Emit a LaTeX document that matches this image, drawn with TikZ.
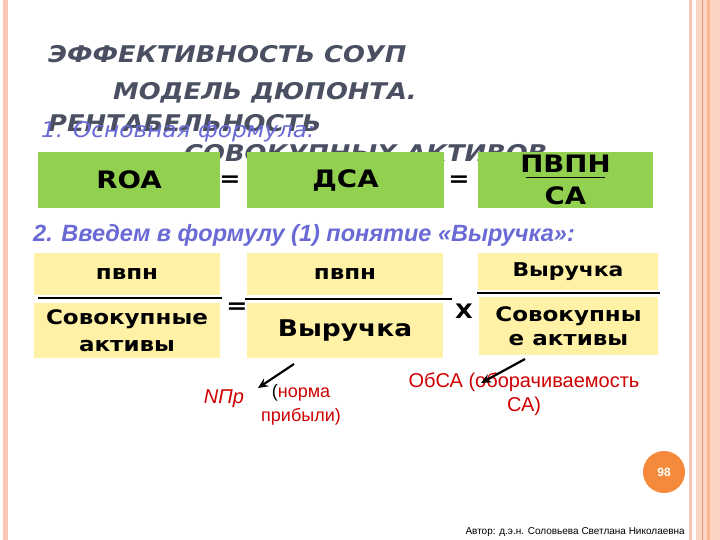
\documentclass[tikz,border=0pt]{standalone}
\usepackage{fontspec}
\setmainfont{DejaVu Sans}
\newfontfamily\vbold[FakeStretch=1.15]{DejaVu Sans Bold}
\newfontfamily\vboldit[FakeStretch=1.12]{DejaVu Sans Bold Oblique}
\newfontfamily\vital[FakeStretch=1.08]{DejaVu Sans Oblique}
\newfontfamily\arialf{Liberation Sans}
\usetikzlibrary{arrows.meta}
\definecolor{boxgreen}{HTML}{92D050}
\definecolor{boxyellow}{HTML}{FFF2A6}
\definecolor{titlegray}{HTML}{4A5062}
\definecolor{formblue}{HTML}{6A6AD6}
\definecolor{notered}{HTML}{D00000}
\definecolor{badge}{HTML}{F58A3A}
\definecolor{framepink}{HTML}{FBC6B3}
\definecolor{bandpink}{HTML}{FCD4C3}
\definecolor{bandline}{HTML}{EA9670}
\definecolor{bandorange}{HTML}{FAB592}
\begin{document}
\begin{tikzpicture}[x=1pt,y=-1pt,
	greenbox/.style={fill=boxgreen,minimum height=56pt,inner sep=0pt,align=center,font=\vbold\fontsize{24}{32}\selectfont},
	yellowbox/.style={fill=boxyellow,inner sep=0pt,align=center,font=\vbold\fontsize{20}{27}\selectfont},
	titleline/.style={anchor=base west,inner sep=0pt,text=titlegray,font=\vboldit\fontsize{23}{28}\selectfont},
	sign/.style={inner sep=0pt,font=\vbold\fontsize{22}{26}\selectfont},
	note/.style={inner sep=0pt,align=center,text=notered,font=\arialf\fontsize{18}{24}\selectfont},
	bar/.style={line width=1.6pt},
	arr/.style={-{Stealth[length=10pt,width=9pt]},line width=2.2pt}]
	\useasboundingbox[fill=white](0,0)rectangle(720,540);
	% frame
	\fill[framepink](3,0)rectangle(8,540);
	\fill[framepink](689,0)rectangle(692,540);
	\fill[bandpink](696,0)rectangle(720,540);
	\draw[bandline,line width=1pt](702.5,0)--(702.5,540);
	\fill[bandorange](706.5,0)rectangle(709.5,540);
	% title
	\node[titleline](t1)at(48,63){ЭФФЕКТИВНОСТЬ СОУП};
	\node[titleline](t2)at(113,100){МОДЕЛЬ ДЮПОНТА.};
	\node[titleline](t3)at(48,132){РЕНТАБЕЛЬНОСТЬ};
	\node[titleline](t4)at(184,162){СОВОКУПНЫХ АКТИВОВ};
	\node[anchor=base west,inner sep=0pt,text=formblue,font=\vital\fontsize{21.5}{24}\selectfont](f1)at(41,138){1. Основная формула:};
	% row 1
	\node[greenbox,minimum width=182pt](roa)at(129,180){ROA};
	\node[greenbox,minimum width=197pt](dca)at(345.5,180){ДСА};
	\node[greenbox,minimum width=175pt](pvpnca)at(565.5,180){ПВПН\\СА};
	\draw[bar](526,177.5)--(605,177.5);
	\node[sign](eq1)at(230,181){=};
	\node[sign](eq2)at(459,181){=};
	\node[anchor=base west,inner sep=0pt,text=formblue,font=\arialf\bfseries\itshape\fontsize{23.5}{26}\selectfont](f2)at(33,241){2. Введем в формулу (1) понятие «Выручка»:};
	% row 2
	\node[yellowbox,minimum width=186pt,minimum height=42pt](na)at(127,274){пвпн};
	\node[yellowbox,minimum width=186pt,minimum height=55pt](da)at(127,330.5){Совокупные\\активы};
	\draw[bar](38,298)--(222,298);
	\node[yellowbox,minimum width=196pt,minimum height=42pt](nb)at(345,274){пвпн};
	\node[yellowbox,minimum width=196pt,minimum height=55pt,font=\vbold\fontsize{23}{27}\selectfont](db)at(345,330.5){Выручка};
	\draw[bar](245,299)--(452,299);
	\node[yellowbox,minimum width=180pt,minimum height=37pt,font=\vbold\fontsize{19}{24}\selectfont](nc)at(568,271.5){Выручка};
	\node[yellowbox,minimum width=179pt,minimum height=58pt,font=\vbold\fontsize{20}{24}\selectfont](dc)at(568.5,326){Совокупны\\е активы};
	\draw[bar](477,293)--(660,293);
	\node[sign](eq3)at(237,308){=};
	\node[sign,font=\vbold\fontsize{20}{24}\selectfont](times)at(464,311){X};
	% notes
	\node[note,font=\arialf\itshape\fontsize{20}{24}\selectfont](npr)at(224,399){NПр};
	\node[note](norma)at(301,405){\textcolor{black}{(}норма\\прибыли)};
	\node[note,font=\arialf\fontsize{20}{24}\selectfont](obsa)at(524,394){ОбСА (оборачиваемость\\СА)};
	\coordinate(nprTail)at(294,364);
	\coordinate(nprHead)at(258,388);
	\coordinate(obsaTail)at(525,359);
	\coordinate(obsaHead)at(481,383);
	\draw[arr](nprTail)--(nprHead);
	\draw[arr](obsaTail)--(obsaHead);
	% page number and author
	\node[circle,fill=badge,minimum size=42pt,inner sep=0pt,text=white,font=\arialf\bfseries\fontsize{12}{14}\selectfont](page)at(664,472){98};
	\node[anchor=base east,inner sep=0pt,font=\arialf\fontsize{10}{12}\selectfont](author)at(685,534){Автор: д.э.н. Соловьева Светлана Николаевна};
\end{tikzpicture}
\end{document}
